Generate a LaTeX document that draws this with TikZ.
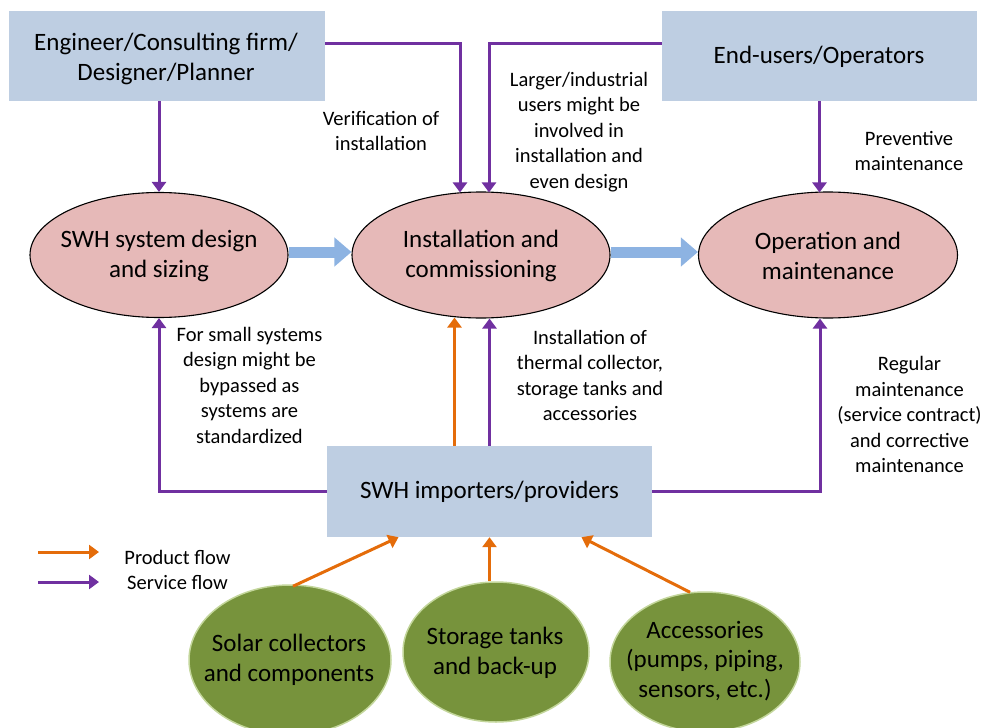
\documentclass[tikz,border=0pt]{standalone}
\usepackage{fontspec}
\setmainfont{Carlito}
\usetikzlibrary{arrows.meta,shapes.geometric}

\definecolor{boxblue}{RGB}{190,206,226}
\definecolor{stagepink}{RGB}{230,185,184}
\definecolor{leafgreen}{RGB}{119,147,60}
\definecolor{leafedge}{RGB}{195,214,155}
\definecolor{svcpurple}{RGB}{112,48,160}
\definecolor{prodorange}{RGB}{228,108,10}
\definecolor{flowblue}{RGB}{141,179,226}

\tikzset{
  actor/.style={fill=boxblue, draw=none, inner sep=0pt},
  bigtext/.style={align=center, font=\fontsize{25}{30}\selectfont},
  stage/.style={ellipse, fill=stagepink, draw=black, line width=1.1pt,
    inner sep=0pt},
  supply/.style={ellipse, fill=leafgreen, draw=leafedge, line width=1.5pt,
    inner sep=0pt},
  supplytext/.style={align=center, font=\fontsize{25}{29.5}\selectfont},
  note/.style={align=center, font=\fontsize{20.5}{25.5}\selectfont},
  svc/.style={draw=svcpurple, line width=3pt,
    -{Triangle[width=14pt,length=10pt]}},
  prod/.style={draw=prodorange, line width=3pt,
    -{Triangle[width=14pt,length=10pt]}},
  stageflow/.style={draw=flowblue, line width=11pt,
    -{Triangle[width=28pt,length=17pt]}},
}

\begin{document}
\begin{tikzpicture}[x=1pt,y=-1pt]
\useasboundingbox (0,0) rectangle (986,728);
\clip (0,0) rectangle (986,728);

% actors
\node[actor, minimum width=316pt, minimum height=90pt] (eng) at (167,56) {};
\node[actor, minimum width=315pt, minimum height=90pt] (eu) at (819.5,56) {};
\node[actor, minimum width=325pt, minimum height=91pt] (imp) at (489.5,491.5) {};
\node[bigtext] (engt) at (166,58.5) {Engineer/Consulting firm/\\Designer/Planner};
\node[bigtext] (eut) at (819,57) {End-users/Operators};
\node[bigtext] (impt) at (489.5,492) {SWH importers/providers};

% project stages
\node[stage, minimum width=258pt, minimum height=125pt] (sd) at (159,255) {};
\node[stage, minimum width=258pt, minimum height=126pt] (inst) at (481,255) {};
\node[stage, minimum width=259pt, minimum height=126pt] (op) at (828,255) {};
\node[bigtext] (sdt) at (159,256) {SWH system design\\and sizing};
\node[bigtext] (instt) at (481,256) {Installation and\\commissioning};
\node[bigtext] (opt) at (828,256) {Operation and\\maintenance};

% supply side
\node[supply, minimum width=202pt, minimum height=150pt] (g1) at (290,660) {};
\node[supply, minimum width=186pt, minimum height=140pt] (g2) at (496,652) {};
\node[supply, minimum width=190pt, minimum height=140pt] (g3) at (705,662) {};
\node[supplytext] (t1) at (289,660) {Solar collectors\\and components};
\node[supplytext] (t2) at (495,653) {Storage tanks\\and back-up};
\node[supplytext] (t3) at (705,661) {Accessories\\(pumps, piping,\\sensors, etc.)};

% stage sequence
\draw[stageflow] ([yshift=3pt]sd.east) -- ([yshift=3pt]inst.west);
\draw[stageflow] ([yshift=3pt]inst.east) -- ([yshift=3pt]op.west);

% service flows
\draw[svc] (eng.south -| sd.north) -- (sd.north);
\draw[svc] ([yshift=13pt]eng.east) -| ([xshift=-21pt,yshift=-1pt]inst.north);
\draw[svc] ([yshift=13pt]eu.west) -| ([xshift=8pt,yshift=-1pt]inst.north);
\draw[svc] (eu.south) -- ([yshift=-1pt]eu.south |- op.north);
\draw[svc] (imp.west) -| (sd.south);
\draw[svc] (imp.north) -- (imp.north |- inst.south);
\draw[svc] (imp.east) -| ([xshift=-8pt]op.south);

% product flows
\draw[prod] ([xshift=-35pt]imp.north) -- ([xshift=-35pt,yshift=1pt]imp.north |- inst.south);
\draw[prod] ([xshift=3pt,yshift=-2pt]g1.north) -- ([xshift=-91pt]imp.south);
\draw[prod] (imp.south |- g2.north) -- (imp.south);
\draw[prod] ([xshift=-15pt,yshift=-1pt]g3.north) -- ([xshift=92pt]imp.south);

% flow notes
\node[note] (nverif) at (381,131) {Verification of\\installation};
\node[note] (nlarge) at (579,132)
  {Larger/industrial\\users might be\\involved in\\installation and\\even design};
\node[note] (nprev) at (909,151) {Preventive\\maintenance};
\node[note] (nsmall) at (249.5,385)
  {For small systems\\design might be\\bypassed as\\systems are\\standardized};
\node[note] (ninst) at (590,375.5)
  {Installation of\\thermal collector,\\storage tanks and\\accessories};
\node[note] (nreg) at (909.5,414.5)
  {Regular\\maintenance\\(service contract)\\and corrective\\maintenance};

% legend
\coordinate (lp0) at (38,552);
\coordinate (lp1) at (99,552);
\coordinate (ls0) at (38,582);
\coordinate (ls1) at (99,582);
\draw[prod] (lp0) -- (lp1);
\draw[svc] (ls0) -- (ls1);
\node[note] (legend) at (177.5,570) {Product flow\\Service flow};
\end{tikzpicture}
\end{document}
